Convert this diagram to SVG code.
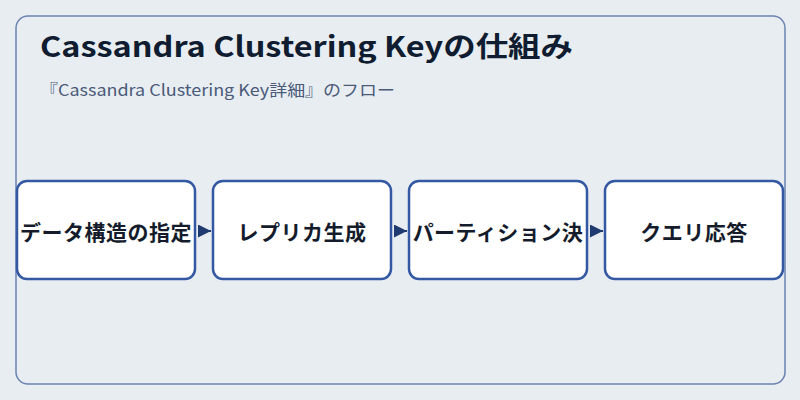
<svg xmlns="http://www.w3.org/2000/svg" width="800" height="400" viewBox="0 0 800 400">
<style>
.title{font-family:"Noto Sans CJK JP","Noto Sans",sans-serif;font-weight:700;font-size:28px;fill:#101c30}
.sub{font-family:"Noto Sans CJK JP","Noto Sans",sans-serif;font-size:16px;fill:#4a5a78}
.box{fill:#ffffff;stroke:#3558a2;stroke-width:2.5}
.lbl{font-family:"Noto Sans CJK JP","Noto Sans",sans-serif;font-weight:700;font-size:21px;fill:#141c2c;text-anchor:middle;dominant-baseline:central;letter-spacing:0.5px}
.conn{stroke:#1f3a70;stroke-width:2;fill:none}
</style>
<defs>
<marker id="ah" viewBox="0 0 10 10" refX="10" refY="5" markerWidth="13" markerHeight="13" markerUnits="userSpaceOnUse" orient="auto">
<path d="M0,0 L10,5 L0,10 z" fill="#1f3a70"/>
</marker>
</defs>
<rect width="800" height="400" fill="#e8edf2"/>
<rect x="16" y="16" width="769" height="368" rx="12" fill="none" stroke="#6a83b0" stroke-width="1.5"/>
<text class="title" x="40" y="57" textLength="533" lengthAdjust="spacingAndGlyphs">Cassandra Clustering Keyの仕組み</text>
<text class="sub" x="40" y="96" textLength="355" lengthAdjust="spacingAndGlyphs">『Cassandra Clustering Key詳細』のフロー</text>
<g id="connectors">
<path class="conn" d="M198,231 L211,231" marker-end="url(#ah)"/>
<path class="conn" d="M394,231 L407,231" marker-end="url(#ah)"/>
<path class="conn" d="M590,231 L603,231" marker-end="url(#ah)"/>
</g>
<g id="node1">
<rect class="box" x="17" y="181" width="178" height="98" rx="10"/>
<text class="lbl" x="106" y="231">データ構造の指定</text>
</g>
<g id="node2">
<rect class="box" x="213" y="181" width="178" height="98" rx="10"/>
<text class="lbl" x="302" y="231">レプリカ生成</text>
</g>
<g id="node3">
<rect class="box" x="409" y="181" width="178" height="98" rx="10"/>
<text class="lbl" x="498" y="231">パーティション決</text>
</g>
<g id="node4">
<rect class="box" x="605" y="181" width="178" height="98" rx="10"/>
<text class="lbl" x="694" y="231">クエリ応答</text>
</g>
</svg>
